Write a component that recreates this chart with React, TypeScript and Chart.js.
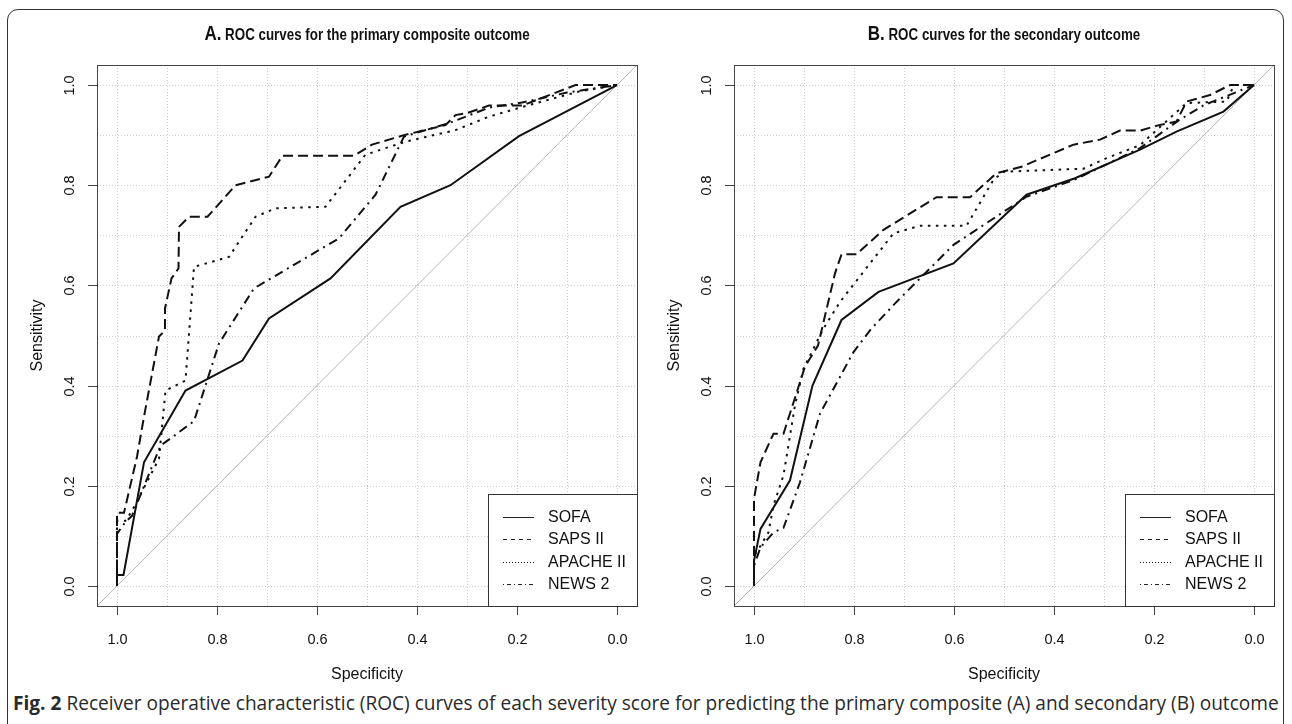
import React, { useEffect, useRef } from "react";
import { Chart, registerables } from "chart.js";
Chart.register(...registerables);

// ---------- data ----------
const seriesNames = ["SOFA", "SAPS II", "APACHE II", "NEWS 2"];
const tickValues = [0, 0.2, 0.4, 0.6, 0.8, 1.0];
const tickLabels = ["0.0", "0.2", "0.4", "0.6", "0.8", "1.0"];
const gridValues = [0, 0.1, 0.2, 0.3, 0.4, 0.5, 0.6, 0.7, 0.8, 0.9, 1.0];
const chanceSpec = [1.04, -0.04];
const chanceSens = [-0.04, 1.04];

// Panel A (primary composite outcome)
const aSofaSpec = [1.0, 1.0, 0.987, 0.946, 0.863, 0.749, 0.696, 0.573, 0.433, 0.333, 0.196, 0.0];
const aSofaSens = [0, 0.022, 0.022, 0.247, 0.39, 0.45, 0.534, 0.614, 0.757, 0.8, 0.898, 1.0];
const aSapsSpec = [1.0, 1.0, 0.986, 0.96, 0.946, 0.916, 0.904, 0.904, 0.891, 0.877, 0.876, 0.856, 0.819, 0.763, 0.696, 0.669, 0.526, 0.49, 0.426, 0.343, 0.323, 0.3, 0.256, 0.19, 0.083, 0.0];
const aSapsSens = [0, 0.146, 0.146, 0.258, 0.338, 0.498, 0.51, 0.554, 0.614, 0.634, 0.717, 0.737, 0.737, 0.8, 0.817, 0.859, 0.859, 0.881, 0.9, 0.92, 0.94, 0.944, 0.959, 0.959, 1.0, 1.0];
const aApacheSpec = [1.0, 1.0, 0.983, 0.97, 0.916, 0.903, 0.863, 0.846, 0.776, 0.723, 0.683, 0.583, 0.503, 0.423, 0.323, 0.256, 0.176, 0.076, 0.0];
const aApacheSens = [0, 0.13, 0.13, 0.15, 0.254, 0.39, 0.41, 0.637, 0.657, 0.737, 0.754, 0.757, 0.861, 0.887, 0.91, 0.937, 0.96, 0.987, 1.0];
const aNewsSpec = [1.0, 1.0, 0.983, 0.97, 0.913, 0.846, 0.796, 0.726, 0.556, 0.483, 0.426, 0.4, 0.336, 0.256, 0.19, 0.1, 0.0];
const aNewsSens = [0, 0.104, 0.128, 0.14, 0.28, 0.329, 0.484, 0.594, 0.694, 0.781, 0.897, 0.905, 0.924, 0.955, 0.965, 0.985, 1.0];

// Panel B (secondary outcome)
const bSofaSpec = [1.0, 1.0, 0.987, 0.928, 0.883, 0.825, 0.751, 0.601, 0.455, 0.358, 0.228, 0.155, 0.061, 0.0];
const bSofaSens = [0, 0.05, 0.114, 0.211, 0.4, 0.531, 0.587, 0.644, 0.781, 0.814, 0.871, 0.907, 0.947, 1.0];
const bSapsSpec = [1.0, 1.0, 0.987, 0.961, 0.941, 0.898, 0.872, 0.838, 0.825, 0.795, 0.741, 0.635, 0.568, 0.515, 0.465, 0.361, 0.308, 0.268, 0.228, 0.19, 0.155, 0.135, 0.088, 0.048, 0.0];
const bSapsSens = [0, 0.174, 0.247, 0.304, 0.304, 0.438, 0.48, 0.624, 0.662, 0.662, 0.711, 0.776, 0.776, 0.824, 0.837, 0.881, 0.891, 0.909, 0.909, 0.92, 0.927, 0.967, 0.98, 1.0, 1.0];
const bApacheSpec = [1.0, 1.0, 0.987, 0.971, 0.961, 0.941, 0.918, 0.901, 0.861, 0.828, 0.721, 0.668, 0.575, 0.521, 0.501, 0.341, 0.295, 0.228, 0.135, 0.055, 0.04, 0.0];
const bApacheSens = [0, 0.06, 0.08, 0.107, 0.161, 0.221, 0.361, 0.434, 0.514, 0.567, 0.704, 0.719, 0.719, 0.811, 0.827, 0.833, 0.854, 0.88, 0.964, 0.967, 1.0, 1.0];
const bNewsSpec = [1.0, 1.0, 0.987, 0.961, 0.941, 0.908, 0.868, 0.801, 0.765, 0.715, 0.601, 0.455, 0.361, 0.228, 0.15, 0.1, 0.05, 0.0];
const bNewsSens = [0, 0.04, 0.077, 0.107, 0.116, 0.207, 0.344, 0.467, 0.514, 0.567, 0.681, 0.777, 0.81, 0.874, 0.93, 0.96, 0.98, 1.0];

// ---------- styles ----------
const curveDash = [[], [10, 5], [2.5, 5.5], [2, 5, 9, 5]];
const legendDash = [[], [4, 4], [1, 2], [1, 3, 4, 3]];
const FONT = '"Liberation Sans", Arial, Helvetica, sans-serif';

function pts(xs: number[], ys: number[]) {
  return xs.map((v, i) => ({ x: v, y: ys[i] }));
}

function makePlugin() {
  return {
    id: "rocPanel",
    beforeDatasetsDraw(chart: any) {
      const { ctx, chartArea: a } = chart;
      const xs = chart.scales.x;
      const ys = chart.scales.y;
      ctx.save();
      ctx.strokeStyle = "#cfcfcf";
      ctx.lineWidth = 1;
      ctx.setLineDash([1, 2]);
      gridValues.forEach((v) => {
        const px = Math.round(xs.getPixelForValue(v)) + 0.5;
        ctx.beginPath();
        ctx.moveTo(px, a.top);
        ctx.lineTo(px, a.bottom);
        ctx.stroke();
        const py = Math.round(ys.getPixelForValue(v)) + 0.5;
        ctx.beginPath();
        ctx.moveTo(a.left, py);
        ctx.lineTo(a.right, py);
        ctx.stroke();
      });
      ctx.restore();
    },
    afterDatasetsDraw(chart: any) {
      const { ctx, chartArea: a } = chart;
      const xs = chart.scales.x;
      const ys = chart.scales.y;
      ctx.save();
      ctx.setLineDash([]);
      // plot box
      ctx.strokeStyle = "#444";
      ctx.lineWidth = 1;
      ctx.strokeRect(Math.round(a.left) + 0.5, Math.round(a.top) + 0.5, Math.round(a.right - a.left), Math.round(a.bottom - a.top));
      // ticks
      ctx.fillStyle = "#111";
      ctx.font = `14.5px ${FONT}`;
      ctx.textAlign = "center";
      ctx.textBaseline = "middle";
      tickValues.forEach((v, i) => {
        const px = Math.round(xs.getPixelForValue(v)) + 0.5;
        ctx.beginPath();
        ctx.moveTo(px, a.bottom);
        ctx.lineTo(px, a.bottom + 9);
        ctx.stroke();
        ctx.fillText(tickLabels[i], px, a.bottom + 34);
        const py = Math.round(ys.getPixelForValue(v)) + 0.5;
        ctx.beginPath();
        ctx.moveTo(a.left - 9, py);
        ctx.lineTo(a.left, py);
        ctx.stroke();
        ctx.save();
        ctx.translate(a.left - 27, py);
        ctx.rotate(-Math.PI / 2);
        ctx.fillText(tickLabels[i], 0, 0);
        ctx.restore();
      });
      // axis titles
      ctx.font = `16px ${FONT}`;
      ctx.fillText("Specificity", (a.left + a.right) / 2, a.bottom + 69);
      ctx.save();
      ctx.translate(a.left - 59, (a.top + a.bottom) / 2);
      ctx.rotate(-Math.PI / 2);
      ctx.fillText("Sensitivity", 0, 0);
      ctx.restore();
      // legend
      const lx = Math.round(a.right - 149) + 0.5;
      const ly = Math.round(a.bottom - 112) + 0.5;
      ctx.fillStyle = "#fff";
      ctx.fillRect(lx, ly, a.right - lx, a.bottom - ly);
      ctx.strokeStyle = "#333";
      ctx.strokeRect(lx, ly, Math.round(a.right) - lx + 0.5, Math.round(a.bottom) - ly + 0.5);
      const rows = [88.7, 66.7, 44.3, 22];
      ctx.textAlign = "left";
      ctx.font = `16px ${FONT}`;
      seriesNames.forEach((n, i) => {
        const yy = Math.round(a.bottom - rows[i]) + 0.5;
        ctx.strokeStyle = "#222";
        ctx.lineWidth = 1;
        ctx.setLineDash(legendDash[i]);
        ctx.beginPath();
        ctx.moveTo(a.right - 134, yy);
        ctx.lineTo(a.right - 103, yy);
        ctx.stroke();
        ctx.setLineDash([]);
        ctx.fillStyle = "#111";
        ctx.fillText(n, a.right - 89, yy + 0.5);
      });
      ctx.restore();
    },
  };
}

type PanelProps = {
  left: number;
  series: { spec: number[]; sens: number[] }[];
};

function Panel({ left, series }: PanelProps) {
  const ref = useRef<HTMLCanvasElement>(null);
  useEffect(() => {
    if (!ref.current) return;
    const datasets: any[] = series.map((s, i) => ({
      label: seriesNames[i],
      data: pts(s.spec, s.sens),
      showLine: true,
      borderColor: "#111",
      borderWidth: 2,
      borderDash: curveDash[i],
      pointRadius: 0,
      fill: false,
      tension: 0,
    }));
    datasets.push({
      label: "chance",
      data: pts(chanceSpec, chanceSens),
      showLine: true,
      borderColor: "#b5b5b5",
      borderWidth: 1,
      pointRadius: 0,
      fill: false,
    });
    const chart = new Chart(ref.current, {
      type: "scatter",
      data: { datasets },
      plugins: [makePlugin()],
      options: {
        animation: false,
        responsive: false,
        maintainAspectRatio: false,
        layout: { padding: { left: 97, top: 65, right: 9, bottom: 84 } },
        plugins: { legend: { display: false }, tooltip: { enabled: false }, title: { display: false } },
        scales: {
          x: { type: "linear", min: -0.04, max: 1.04, reverse: true, display: false },
          y: { type: "linear", min: -0.04, max: 1.04, display: false },
        },
      },
    });
    return () => chart.destroy();
  }, []);
  return (
    <canvas
      ref={ref}
      width={646}
      height={690}
      style={{ position: "absolute", left, top: 0, width: 646, height: 690 }}
    />
  );
}

const titleStyle: React.CSSProperties = {
  position: "absolute",
  top: 33,
  transform: "translate(-50%, -50%) scaleX(0.81)",
  whiteSpace: "nowrap",
  fontFamily: FONT,
  fontWeight: "bold",
  fontSize: 16.5,
  color: "#111",
  lineHeight: "24px",
};

export default function App() {
  return (
    <div style={{ position: "fixed", left: 0, top: 0, width: 1292, height: 724, background: "#fff", overflow: "hidden" }}>
      <div
        style={{
          position: "absolute",
          left: 7,
          top: 9,
          width: 1277,
          height: 730,
          border: "1.5px solid #333",
          borderRadius: 11,
          boxSizing: "border-box",
        }}
      />
      <Panel
        left={0}
        series={[
          { spec: aSofaSpec, sens: aSofaSens },
          { spec: aSapsSpec, sens: aSapsSens },
          { spec: aApacheSpec, sens: aApacheSens },
          { spec: aNewsSpec, sens: aNewsSens },
        ]}
      />
      <Panel
        left={637}
        series={[
          { spec: bSofaSpec, sens: bSofaSens },
          { spec: bSapsSpec, sens: bSapsSens },
          { spec: bApacheSpec, sens: bApacheSens },
          { spec: bNewsSpec, sens: bNewsSens },
        ]}
      />
      <div style={{ ...titleStyle, left: 367 }}>
        <span style={{ fontSize: 21 }}>A.</span> ROC curves for the primary composite outcome
      </div>
      <div style={{ ...titleStyle, left: 1004 }}>
        <span style={{ fontSize: 21 }}>B.</span> ROC curves for the secondary outcome
      </div>
      <div
        style={{
          position: "absolute",
          left: 13,
          top: 691,
          whiteSpace: "nowrap",
          fontFamily: '"Open Sans", sans-serif',
          fontSize: 19.1,
          lineHeight: "24px",
          color: "#2a2a2a",
        }}
      >
        <b>Fig. 2</b> Receiver operative characteristic (ROC) curves of each severity score for predicting the primary composite (A) and secondary (B) outcome
      </div>
    </div>
  );
}
